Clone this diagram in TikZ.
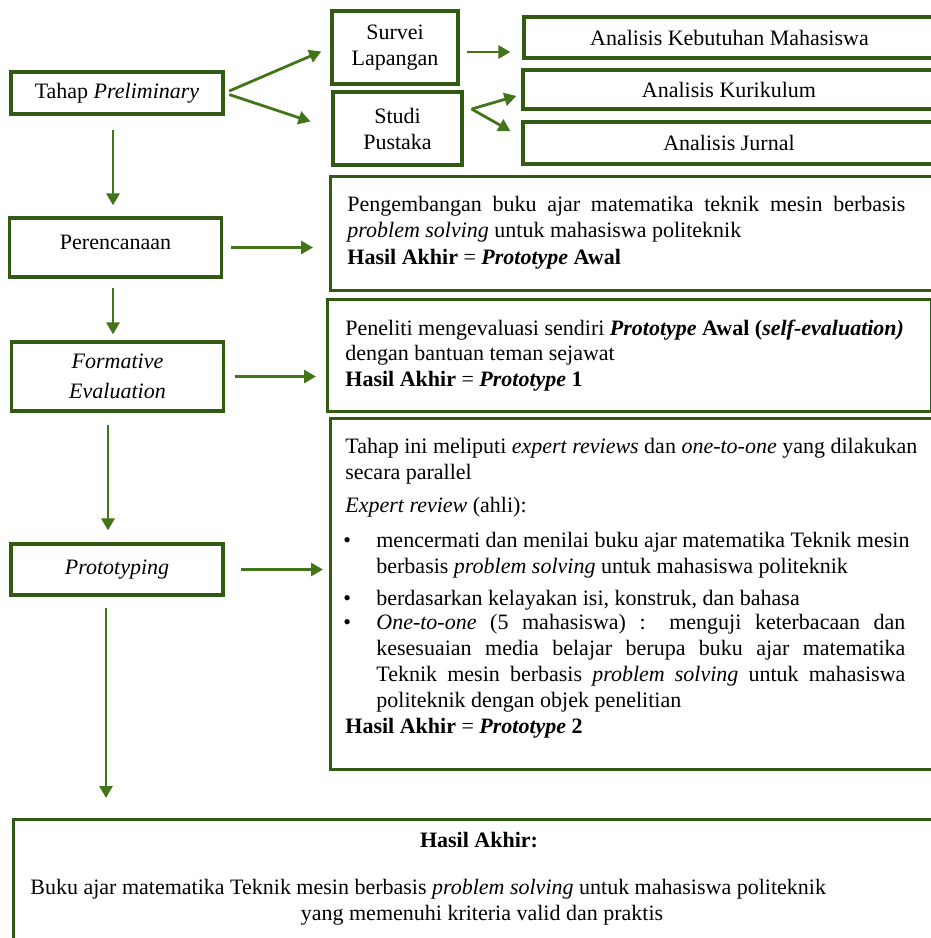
\documentclass[tikz,border=0pt]{standalone}
\usepackage{fontspec}
\setmainfont{Liberation Serif}
\usetikzlibrary{arrows.meta}
\definecolor{boxgreen}{RGB}{50,90,18}
\definecolor{arrowgreen}{RGB}{66,116,26}
\tikzset{box/.style={draw=boxgreen,line width=1.6pt,inner sep=0pt}}
\tikzset{lbox/.style={box,minimum width=106pt,align=center}}
\tikzset{arr/.style={draw=arrowgreen,line width=1.4pt,-{Triangle[length=6pt,width=6.5pt]}}}
\tikzset{body/.style={inner sep=0pt,anchor=base west}}
\newcommand{\bitem}[1]{\makebox[15.5pt][l]{\hspace{-1pt}\textbullet}\parbox[t]{264.5pt}{\fontsize{11}{13}\selectfont #1}}

\begin{document}
\begin{tikzpicture}[x=0.5pt,y=-0.5pt,font=\fontsize{11}{13}\selectfont]
            \useasboundingbox (0,0) rectangle (931,938);
            \clip (0,0) rectangle (931,938);
            % left column
            \node[lbox,minimum height=21pt] (prelim) at (117,93) {Tahap \textit{Preliminary}};
            \node[lbox,minimum height=29.5pt,text depth=5pt] (perenc) at (115.5,247.5) {Perencanaan};
            \node[lbox,minimum height=34.5pt] (formative) at (117.5,376.5) {\textit{Formative}\\[2pt]\textit{Evaluation}};
            \node[lbox,minimum height=25.5pt] (proto) at (117,569.5) {\textit{Prototyping}};
            % survey and literature
            \node[box,minimum width=63pt,minimum height=36.5pt,align=center] (survei) at (395,47.5) {Survei\\Lapangan};
            \node[box,minimum width=64.5pt,minimum height=36.5pt,align=center] (studi) at (397.5,128.5) {Studi\\Pustaka};
            \node[box,minimum width=205.5pt,minimum height=20.5pt] (akm) at (729.5,37.5) {Analisis Kebutuhan Mahasiswa};
            \node[box,minimum width=206pt,minimum height=19.5pt] (kuri) at (729,89.5) {Analisis Kurikulum};
            \node[box,minimum width=206pt,minimum height=21pt] (jurnal) at (729,143) {Analisis Jurnal};
            % result boxes
            \node[box,anchor=north west,minimum width=303pt,minimum height=57pt] (plan) at (329,175) {};
            \node[body] (plantext) at (347,211) {\parbox[t]{279pt}{\fontsize{11}{13.25}\selectfont
              \makebox[279pt][s]{Pengembangan buku ajar matematika teknik mesin berbasis}\\
              \textit{problem solving} untuk mahasiswa politeknik\\
              \textbf{Hasil Akhir} = \textbf{\textit{Prototype} Awal}}};
            \node[box,anchor=north west,minimum width=302pt,minimum height=56pt] (self) at (326,298) {};
            \node[body] (selftext) at (345,335) {\parbox[t]{284pt}{\fontsize{11}{12.75}\selectfont
              \mbox{Peneliti mengevaluasi sendiri \textbf{\textit{Prototype} Awal (\textit{self-evaluation)}}}\\
              dengan bantuan teman sejawat\\
              \textbf{Hasil Akhir} = \textbf{\textit{Prototype} 1}}};
            \node[box,anchor=north west,minimum width=303pt,minimum height=175.5pt] (review) at (329,417) {};
            \node[body] (reviewtext) at (345,453) {\parbox[t]{286pt}{\fontsize{11}{13}\selectfont
              \mbox{Tahap ini meliputi \textit{expert reviews} dan \textit{one-to-one} yang dilakukan}\\
              secara parallel\\[3.5pt]
              \textit{Expert review} (ahli):\\[4.5pt]
              \bitem{\mbox{mencermati dan menilai buku ajar matematika Teknik mesin}\\
                berbasis \textit{problem solving} untuk mahasiswa politeknik}\\[5.5pt]
              \bitem{berdasarkan kelayakan isi, konstruk, dan bahasa}\\[-1pt]
              \bitem{\makebox[264.5pt][s]{\textit{One-to-one} (5 mahasiswa) : menguji keterbacaan dan}\\
                \makebox[264.5pt][s]{kesesuaian media belajar berupa buku ajar matematika}\\
                \makebox[264.5pt][s]{Teknik mesin berbasis \textit{problem solving} untuk mahasiswa}\\
                politeknik dengan objek penelitian}\\[2pt]
              \textbf{Hasil Akhir} = \textbf{\textit{Prototype} 2}}};
            \node[box,anchor=north west,minimum width=461.5pt,minimum height=71pt] (final) at (12,818) {};
            \node[inner sep=0pt,anchor=base] (finalhead) at (479,847) {\textbf{Hasil Akhir:}};
            \node[body] (finaltext) at (30,894) {Buku ajar matematika Teknik mesin berbasis \textit{problem solving} untuk mahasiswa politeknik};
            \node[inner sep=0pt,anchor=base] (finaltextb) at (482,920) {yang memenuhi kriteria valid dan praktis};
            % connectors
            \draw[arr,shorten <=2.5pt,shorten >=5pt] (prelim.east) -- (survei.west);
            \draw[arr,shorten <=2.5pt,shorten >=11pt] (prelim.east) -- (studi.west);
            \draw[arr] ([xshift=3.5pt,yshift=-2.25pt]survei.east) -- ([xshift=-6pt,yshift=-7.25pt]akm.west);
            \coordinate (fork) at ([xshift=4pt,yshift=9.75pt]studi.east);
            \draw[arr] (fork) -- ([xshift=-2.5pt,yshift=-3.25pt]kuri.west);
            \draw[arr] (fork) -- ([xshift=-5.5pt,yshift=6pt]jurnal.west);
            \draw[arr,shorten <=7pt,shorten >=5.5pt] ([xshift=-2pt]prelim.south) -- ([xshift=-1.25pt]perenc.north);
            \draw[arr,shorten <=4.5pt,shorten >=3pt] ([xshift=-1.25pt]perenc.south) -- ([xshift=-2.25pt]formative.north);
            \draw[arr,shorten <=6pt,shorten >=6pt] ([xshift=-4.75pt]formative.south) -- ([xshift=-4.5pt]proto.north);
            \draw[arr,shorten <=5.5pt,shorten >=10pt] ([xshift=-5.5pt]proto.south) -- ([xshift=-5.5pt]proto.south |- final.north);
            \draw[arr,shorten <=4pt,shorten >=8pt] (perenc.east) -- (perenc.east -| plan.west);
            \draw[arr,shorten <=5pt,shorten >=5pt] (formative.east) -- (formative.east -| self.west);
            \draw[arr,shorten <=8pt,shorten >=3pt] (proto.east) -- (proto.east -| review.west);
\end{tikzpicture}
\end{document}
